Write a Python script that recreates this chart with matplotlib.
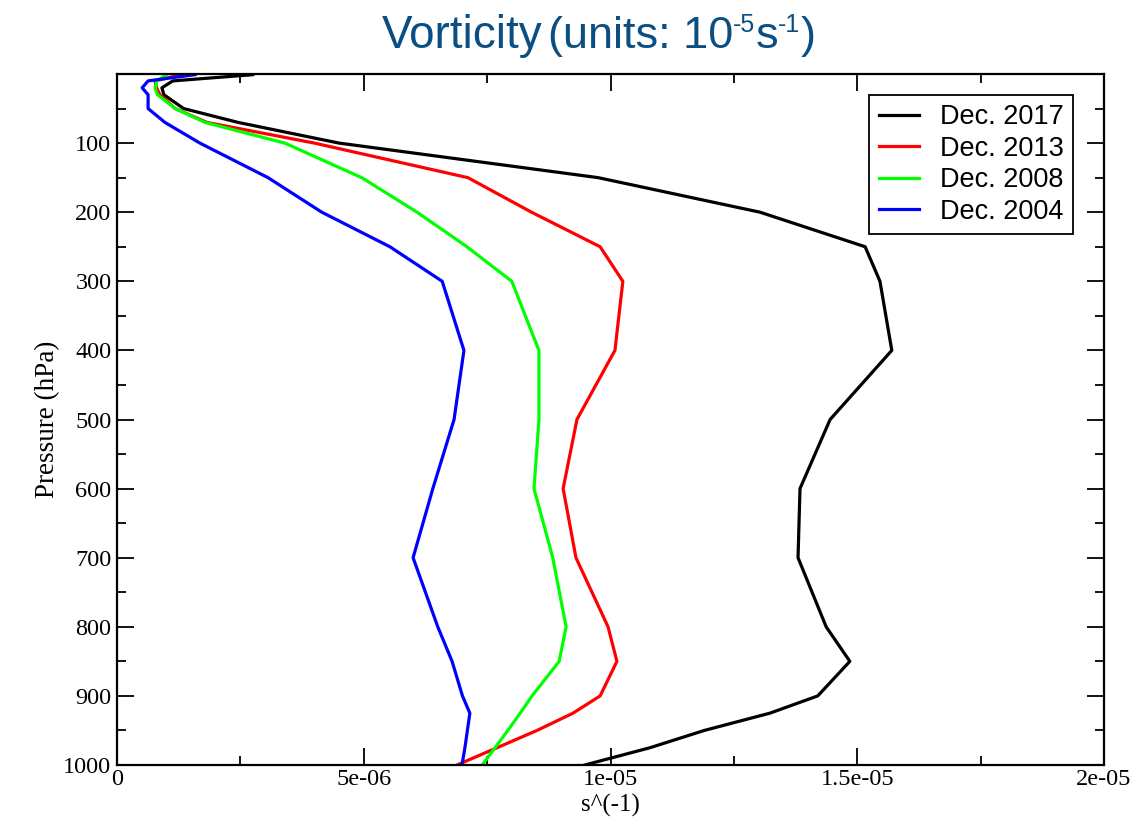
import numpy as np
import matplotlib
matplotlib.use("Agg")
import matplotlib.pyplot as plt
from matplotlib.ticker import MultipleLocator

# pressure levels (hPa), top to bottom
levels = [1, 10, 20, 30, 50, 70, 100, 150, 200, 250, 300, 400, 500, 600, 700,
          800, 850, 900, 925, 950, 975, 1000]

# vorticity profiles (s^-1)
dec_2017 = [2.75e-6, 1.13e-6, 0.91e-6, 0.95e-6, 1.35e-6, 2.45e-6, 4.5e-6, 9.75e-6, 13.03e-6,
            15.16e-6, 15.46e-6, 15.7e-6, 14.45e-6, 13.84e-6, 13.8e-6, 14.37e-6, 14.85e-6,
            14.2e-6, 13.23e-6, 11.9e-6, 10.8e-6, 9.48e-6]
dec_2013 = [1.3e-6, 0.77e-6, 0.8e-6, 0.87e-6, 1.18e-6, 1.82e-6, 4.0e-6, 7.11e-6, 8.4e-6,
            9.79e-6, 10.25e-6, 10.09e-6, 9.32e-6, 9.04e-6, 9.3e-6, 9.95e-6, 10.13e-6,
            9.79e-6, 9.24e-6, 8.51e-6, 7.7e-6, 6.89e-6]
dec_2008 = [1.0e-6, 0.81e-6, 0.77e-6, 0.82e-6, 1.18e-6, 1.78e-6, 3.4e-6, 4.96e-6, 6.08e-6,
            7.09e-6, 8.0e-6, 8.55e-6, 8.55e-6, 8.45e-6, 8.83e-6, 9.1e-6, 8.96e-6,
            8.41e-6, 8.17e-6, 7.92e-6, 7.66e-6, 7.4e-6]
dec_2004 = [1.58e-6, 0.63e-6, 0.51e-6, 0.63e-6, 0.63e-6, 0.97e-6, 1.68e-6, 3.06e-6, 4.15e-6,
            5.53e-6, 6.59e-6, 7.03e-6, 6.83e-6, 6.4e-6, 6.0e-6, 6.5e-6, 6.79e-6,
            7.0e-6, 7.15e-6, 7.1e-6, 7.05e-6, 6.99e-6]

series = [("Dec. 2017", dec_2017, "black"),
          ("Dec. 2013", dec_2013, "#ff0000"),
          ("Dec. 2008", dec_2008, "#00ff00"),
          ("Dec. 2004", dec_2004, "#0000ff")]

fig = plt.figure(figsize=(11.4, 8.27), dpi=100)
ax = fig.add_axes([117 / 1140, 1 - 765 / 827, 987 / 1140, 691 / 827])

for name, vals, col in series:
    ax.plot(vals, levels, color=col, lw=2.3, label=name)

ax.set_xlim(0, 2e-5)
ax.set_ylim(1000, 0)
ax.xaxis.set_minor_locator(MultipleLocator(2.5e-6))
ax.yaxis.set_minor_locator(MultipleLocator(50))
ax.set_xticks([0, 5e-6, 1e-5, 1.5e-5, 2e-5], ["0", "5e-06", "1e-05", "1.5e-05", "2e-05"])
ax.set_yticks(range(100, 1001, 100), [str(v) for v in range(100, 1001, 100)])

ax.tick_params(which="both", direction="in", top=True, right=True, width=1.3,
               labelsize=17.5)
ax.tick_params(axis="y", pad=4)
ax.tick_params(axis="x", pad=3)
ax.tick_params(which="major", length=12)
ax.tick_params(which="minor", length=6.5)
for lab in ax.get_xticklabels() + ax.get_yticklabels():
    lab.set_fontfamily("Liberation Serif")
for sp in ax.spines.values():
    sp.set_linewidth(1.6)

ax.set_xlabel("s^(-1)", family="Liberation Serif", fontsize=18, labelpad=3)
ax.set_ylabel("Pressure (hPa)", family="Liberation Serif", fontsize=19.5, labelpad=2)

leg = ax.legend(loc="upper right", bbox_to_anchor=(0.9686, 0.9696), fancybox=False,
                edgecolor="black", framealpha=1, handlelength=1.5, handletextpad=0.75,
                prop={"family": "Liberation Sans", "size": 19.5}, borderpad=0.35,
                labelspacing=0.2, borderaxespad=0)
leg.get_frame().set_linewidth(1.3)

# title built from pieces so the superscripts look like the original
title_col = "#0b4f82"
base_y = 1 - 48 / 827
fig.text(382 / 1140, base_y, "Vorticity", family="Liberation Sans", fontsize=33,
         color=title_col, ha="left", va="baseline")
renderer = fig.canvas.get_renderer()
pieces = [("(units: 10", 32.5, 0), ("-5", 18, 16), ("s", 32.5, 0), ("-1", 18, 16), (")", 32.5, 0)]
x = 548
for txt, size, rise in pieces:
    t = fig.text(x / 1140, base_y + rise / 827, txt, family="Liberation Sans",
                 fontsize=size, color=title_col, ha="left", va="baseline")
    x += t.get_window_extent(renderer).width

fig.savefig("out.png", dpi=100)
